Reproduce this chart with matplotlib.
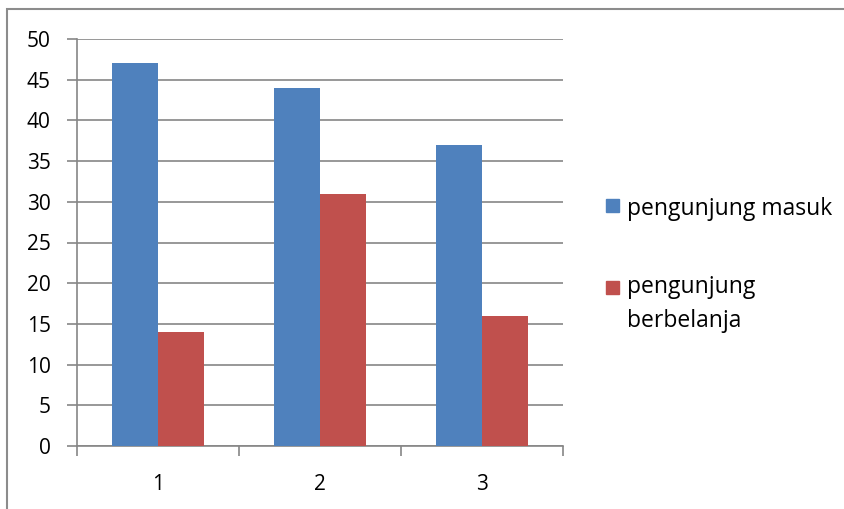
import numpy as np
import matplotlib
matplotlib.use("Agg")
import matplotlib.pyplot as plt
from matplotlib.patches import Rectangle

# Data
categories = ["1", "2", "3"]
masuk = [47, 44, 37]
berbelanja = [14, 31, 16]
series_names = [["pengunjung masuk"], ["pengunjung", "berbelanja"]]
colors = ["#4F81BD", "#C0504D"]
y_ticks = [0, 5, 10, 15, 20, 25, 30, 35, 40, 45, 50]

plt.rcParams['font.family'] = ['Open Sans', 'DejaVu Sans']

W, H = 845, 509
fig = plt.figure(figsize=(W / 100, H / 100), dpi=100)
ax = fig.add_axes([77 / W, 1 - 446 / H, (563 - 77) / W, (446 - 39) / H])

x = np.arange(len(categories))
bw = 0.285
ax.bar(x - bw / 2, masuk, bw, color=colors[0], zorder=3)
ax.bar(x + bw / 2, berbelanja, bw, color=colors[1], zorder=3)

grid_c = "#868686"
ax.set_xlim(-0.5, 2.5)
ax.set_ylim(0, 50)
ax.set_yticks(y_ticks)
ax.set_xticks(x)
ax.set_xticklabels(categories)
ax.yaxis.grid(True, color=grid_c, linewidth=1.2, zorder=0)
for s in ["top", "right"]:
    ax.spines[s].set_visible(False)
for s in ["left", "bottom"]:
    ax.spines[s].set_color(grid_c)
    ax.spines[s].set_linewidth(1.2)

# category separators as ticks on the x axis
ax.set_xticks([-0.5, 0.5, 1.5, 2.5], minor=True)
ax.tick_params(axis="x", which="major", length=0, pad=20, labelsize=15)
ax.tick_params(axis="x", which="minor", length=7, color=grid_c, width=1.2, direction="out")
ax.tick_params(axis="y", length=7, color=grid_c, width=1.2, labelsize=15, pad=12)

# legend drawn by hand
leg_x = 606 / W
entries = [(series_names[0], colors[0], 199, [215]),
           (series_names[1], colors[1], 281, [293, 327])]
for lines, c, top, baselines in entries:
    fig.patches.append(Rectangle((leg_x, 1 - (top + 13) / H), 13 / W, 13 / H,
                                 transform=fig.transFigure, color=c, figure=fig))
    for line, bl in zip(lines, baselines):
        fig.text(627 / W, 1 - bl / H, line, fontsize=16.5, va="baseline", ha="left")

# chart border
fig.patches.append(Rectangle((7 / W, -0.05), 1.0, 1 - 9 / H + 0.05,
                             transform=fig.transFigure, fill=False,
                             edgecolor="#8c8c8c", linewidth=1.5, figure=fig))

fig.savefig("out.png", dpi=100)
